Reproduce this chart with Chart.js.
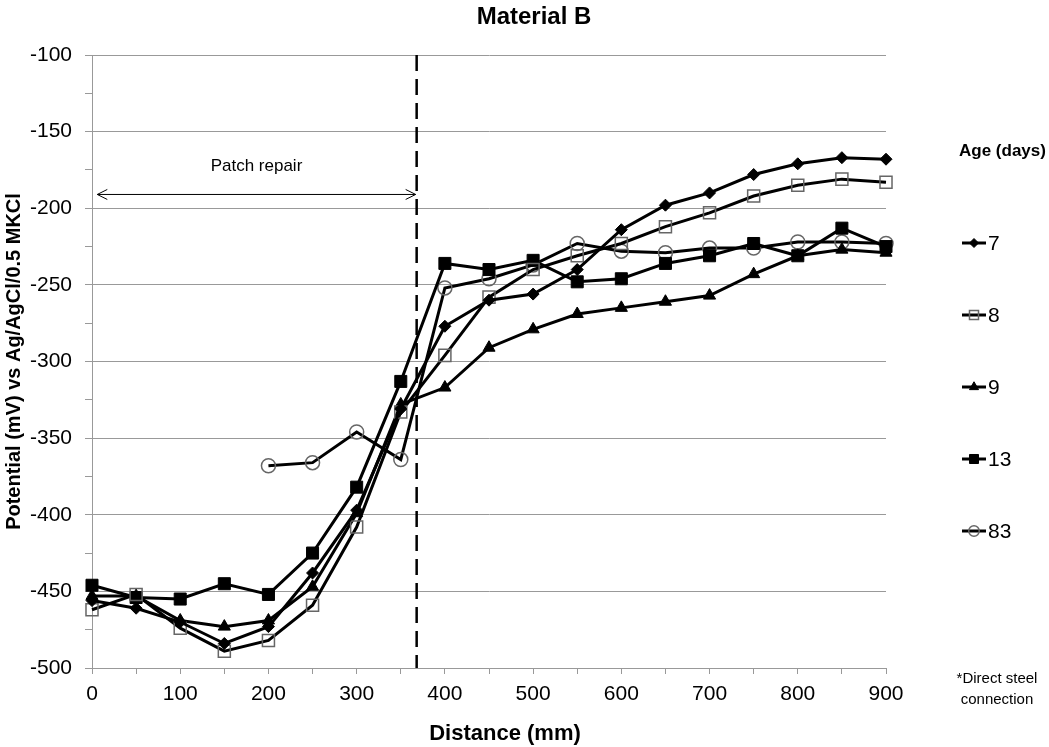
<!DOCTYPE html>
<html>
<head>
<meta charset="utf-8">
<title>Material B</title>
<script src="https://cdn.jsdelivr.net/npm/chart.js@4.4.0/dist/chart.umd.min.js"></script>
<style>
  html, body { margin: 0; padding: 0; background: #fff; }
  #wrap { width: 1049px; height: 747px; }
</style>
</head>
<body>
<div id="wrap"><canvas id="chart" width="1049" height="747"></canvas></div>
<script>
// distance along the slab (mm)
const distances = [0, 50, 100, 150, 200, 250, 300, 350, 400, 450, 500, 550, 600, 650, 700, 750, 800, 850, 900];

// potential (mV) for each age (days)
const age7  = [-456, -461, -470, -484, -473, -438, -397, -331, -277, -260, -256, -240, -214, -198, -190, -178, -171, -167, -168];
const age8  = [-462, -452, -474, -489, -482, -459, -408, -333, -296, -258, -240, -231, -223, -212, -203, -192, -185, -181, -183];
const age9  = [-453, -453, -469, -473, -469, -447, -399, -328, -317, -291, -279, -269, -265, -261, -257, -243, -231, -227, -229];
const age13 = [-446, -454, -455, -445, -452, -425, -382, -313, -236, -240, -234, -248, -246, -236, -231, -223, -231, -213, -225];
const age83 = [null, null, null, null, -368, -366, -346, -364, -252, -246, -237, -223, -228, -229, -226, -226, -222, -222, -223];

const ageLabels = ['7', '8', '9', '13', '83'];
const patchEnd = 368;   // end of patch repair (mm)
const patchArrowY = -191;

const FONT = "'Liberation Sans', Arial, sans-serif";
const GRID = '#999999';

Chart.defaults.font.family = FONT;
Chart.defaults.color = '#000';

const markerStyles = [
    { pointStyle: 'rectRot', pointRadius: 6, pointBackgroundColor: '#000', pointBorderColor: '#000', pointBorderWidth: 1 },
    { pointStyle: 'rect', pointRadius: 8.5, pointBackgroundColor: 'rgba(0,0,0,0)', pointBorderColor: '#666', pointBorderWidth: 1.5 },
    { pointStyle: 'triangle', pointRadius: 7, pointBackgroundColor: '#000', pointBorderColor: '#000', pointBorderWidth: 1 },
    { pointStyle: 'rect', pointRadius: 8.5, pointBackgroundColor: '#000', pointBorderColor: '#000', pointBorderWidth: 1 },
    { pointStyle: 'circle', pointRadius: 7, pointBackgroundColor: 'rgba(0,0,0,0)', pointBorderColor: '#666', pointBorderWidth: 1.5 }
];

const series = [age7, age8, age9, age13, age83];

const datasets = series.map((vals, i) => Object.assign({
    label: ageLabels[i],
    data: distances.map((d, j) => ({ x: d, y: vals[j] })),
    borderColor: '#000',
    borderWidth: 3,
    tension: 0,
    fill: false,
    spanGaps: false,
    clip: false
}, markerStyles[i]));

// extra drawing: patch repair marker, titles, legend, note
const extras = {
    id: 'extras',
    beforeDatasetsDraw(chart) {
        const { ctx, chartArea, scales } = chart;
        const px = scales.x.getPixelForValue(patchEnd);
        ctx.save();
        ctx.strokeStyle = '#000';
        ctx.lineWidth = 2.5;
        ctx.setLineDash([16, 8]);
        ctx.beginPath();
        ctx.moveTo(px, chartArea.top);
        ctx.lineTo(px, chartArea.bottom);
        ctx.stroke();
        ctx.restore();

        // double-headed arrow
        const x0 = scales.x.getPixelForValue(6);
        const x1 = px - 1;
        const y = scales.y.getPixelForValue(patchArrowY);
        ctx.save();
        ctx.strokeStyle = '#000';
        ctx.lineWidth = 1;
        ctx.beginPath();
        ctx.moveTo(x0, y); ctx.lineTo(x1, y);
        ctx.moveTo(x0 + 10, y - 5); ctx.lineTo(x0, y); ctx.lineTo(x0 + 10, y + 5);
        ctx.moveTo(x1 - 10, y - 5); ctx.lineTo(x1, y); ctx.lineTo(x1 - 10, y + 5);
        ctx.stroke();
        ctx.fillStyle = '#000';
        ctx.font = '17px ' + FONT;
        ctx.textAlign = 'center';
        ctx.textBaseline = 'middle';
        ctx.fillText('Patch repair', (x0 + x1) / 2, y - 28);
        ctx.restore();
    },
    afterDraw(chart) {
        const ctx = chart.ctx;
        ctx.save();
        ctx.fillStyle = '#000';
        ctx.textBaseline = 'middle';

        ctx.textAlign = 'center';
        ctx.font = 'bold 24px ' + FONT;
        ctx.fillText('Material B', 534, 17);

        ctx.font = 'bold 22px ' + FONT;
        ctx.fillText('Distance (mm)', 505, 734);

        ctx.textAlign = 'left';
        ctx.font = 'bold 17px ' + FONT;
        ctx.fillText('Age (days)', 959, 151);

        chart.data.datasets.forEach((ds, i) => {
            const y = 243 + i * 72;
            ctx.strokeStyle = '#000';
            ctx.lineWidth = 3;
            ctx.beginPath();
            ctx.moveTo(962, y);
            ctx.lineTo(986, y);
            ctx.stroke();
            ctx.fillStyle = ds.pointBackgroundColor;
            ctx.strokeStyle = ds.pointBorderColor;
            ctx.lineWidth = ds.pointBorderWidth;
            Chart.helpers.drawPoint(ctx, {
                pointStyle: ds.pointStyle,
                radius: ds.pointRadius * 0.75,
                rotation: 0,
                borderWidth: ds.pointBorderWidth
            }, 974, y);
            ctx.fillStyle = '#000';
            ctx.font = '21px ' + FONT;
            ctx.fillText(ds.label, 988, y + 1);
        });

        ctx.textAlign = 'center';
        ctx.font = '15px ' + FONT;
        ctx.fillText('*Direct steel', 997, 679);
        ctx.fillText('connection', 997, 700);
        ctx.restore();
    }
};

new Chart(document.getElementById('chart'), {
    type: 'line',
    data: { datasets: datasets },
    options: {
        responsive: false,
        animation: false,
        layout: { padding: { top: 55, right: 163, bottom: 0, left: 0 } },
        plugins: {
            legend: { display: false },
            title: { display: false },
            tooltip: { enabled: false }
        },
        scales: {
            x: {
                type: 'linear',
                min: 0,
                max: 900,
                afterFit: (scale) => { scale.height = 79; },
                border: { display: true, color: GRID, width: 1 },
                grid: { drawOnChartArea: false, color: GRID, tickLength: 6 },
                ticks: {
                    stepSize: 50,
                    autoSkip: false,
                    maxRotation: 0,
                    padding: 8,
                    font: { size: 21 },
                    color: '#000',
                    callback: (v) => (v % 100 === 0 ? String(v) : '')
                }
            },
            y: {
                type: 'linear',
                min: -500,
                max: -100,
                afterFit: (scale) => { scale.width = 92; },
                border: { display: true, color: GRID, width: 1 },
                grid: {
                    color: (c) => (c.tick && c.tick.value % 50 === 0 ? GRID : 'rgba(0,0,0,0)'),
                    tickColor: GRID,
                    tickLength: 7
                },
                ticks: {
                    stepSize: 25,
                    autoSkip: false,
                    padding: 13,
                    font: { size: 21 },
                    color: '#000',
                    callback: (v) => (v % 50 === 0 ? String(v) : '')
                },
                title: {
                    display: true,
                    text: 'Potential (mV) vs Ag/AgCl/0.5 MKCl',
                    font: { size: 20, weight: 'bold' },
                    color: '#000',
                    padding: { top: 2, bottom: 0 }
                }
            }
        }
    },
    plugins: [extras]
});
</script>
</body>
</html>
